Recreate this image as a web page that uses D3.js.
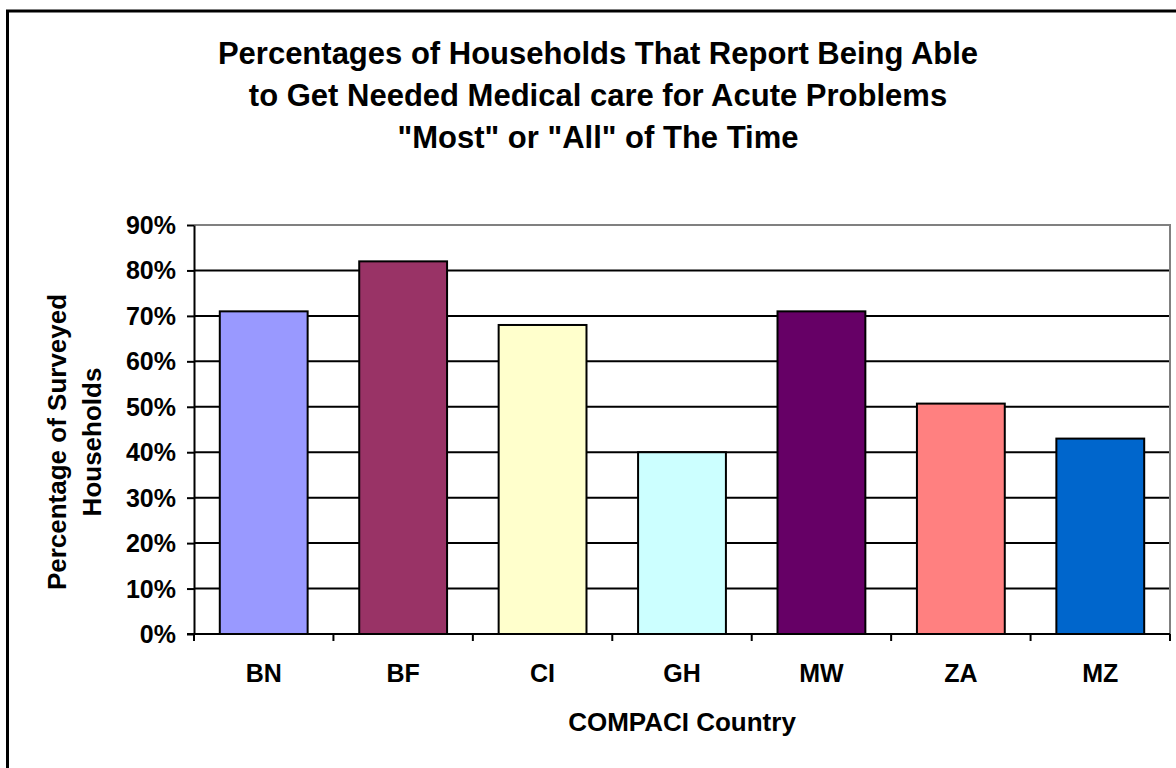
<!DOCTYPE html>
<html>
<head>
<meta charset="utf-8">
<script src="https://cdn.jsdelivr.net/npm/d3@7"></script>
<style>
  body { margin: 0; background: #fff; }
  text { font-family: Arial, "Liberation Sans", sans-serif; font-weight: bold; fill: #000; }
</style>
</head>
<body>
<div id="vis"></div>
<script>
const countries = ['BN', 'BF', 'CI', 'GH', 'MW', 'ZA', 'MZ'];
const shares = [71, 82, 68, 40, 71, 50.7, 43];
const barColors = ['#9999FF', '#993366', '#FFFFCC', '#CCFFFF', '#660066', '#FF8080', '#0066CC'];
const yTicks = [0, 10, 20, 30, 40, 50, 60, 70, 80, 90];
const titleLines = ['Percentages of Households That Report Being Able',
    'to Get Needed Medical care for Acute Problems',
    '"Most" or "All" of The Time'];

const W = 1176, H = 768;
const plot = {left: 194, right: 1170, top: 225, bottom: 634};

const svg = d3.select('#vis')
    .append('svg')
    .attr('width', W)
    .attr('height', H);

// outer chart frame (right and bottom edges fall outside the picture)
svg.append('rect')
    .attr('x', 7.5).attr('y', 11)
    .attr('width', W + 20).attr('height', H + 20)
    .attr('fill', 'none')
    .attr('stroke', '#000')
    .attr('stroke-width', 3)

const x = d3.scaleBand()
    .domain(countries)
    .range([plot.left, plot.right])
    .paddingInner(0.37)
    .paddingOuter(0.185);

const y = d3.scaleLinear()
    .domain([0, 90])
    .range([plot.bottom, plot.top]);

// gridlines
svg.append('g')
    .selectAll('line')
    .data(yTicks.filter(d => d > 0 && d < 90))
    .join('line')
    .attr('x1', plot.left).attr('x2', plot.right)
    .attr('y1', d => y(d)).attr('y2', d => y(d))
    .attr('stroke', '#000')
    .attr('stroke-width', 2)

// plot border top / right (grey)
svg.append('path')
    .attr('d', `M${plot.left},${y(90)}H${plot.right}V${plot.bottom}`)
    .attr('fill', 'none')
    .attr('stroke', '#808080')
    .attr('stroke-width', 2)

// bars
svg.append('g')
    .selectAll('rect')
    .data(countries.map((c, i) => ({c, v: shares[i], col: barColors[i]})))
    .join('rect')
    .attr('x', d => x(d.c))
    .attr('y', d => y(d.v))
    .attr('width', x.bandwidth())
    .attr('height', d => y(0) - y(d.v))
    .attr('fill', d => d.col)
    .attr('stroke', '#000')
    .attr('stroke-width', 2)

// y axis
const yAxis = svg.append('g')
    .attr('transform', `translate(${plot.left},0)`)
    .call(d3.axisLeft(y).tickValues(yTicks).tickFormat(d => d + '%').tickSize(7).tickSizeOuter(0).tickPadding(11))
yAxis.select('.domain').attr('stroke-width', 2)
yAxis.selectAll('.tick line').attr('stroke-width', 2)
yAxis.selectAll('.tick text').style('font-size', '25px').attr('dy', '0.34em')

// x axis: ticks on the category boundaries
const boundaries = d3.range(countries.length + 1).map(i => plot.left + i * x.step());
svg.append('line')
    .attr('x1', plot.left - 7).attr('x2', plot.right)
    .attr('y1', plot.bottom).attr('y2', plot.bottom)
    .attr('stroke', '#000').attr('stroke-width', 2)
svg.append('g')
    .selectAll('line')
    .data(boundaries)
    .join('line')
    .attr('x1', d => d).attr('x2', d => d)
    .attr('y1', plot.bottom).attr('y2', plot.bottom + 7)
    .attr('stroke', '#000').attr('stroke-width', 2)
svg.append('g')
    .selectAll('text')
    .data(countries)
    .join('text')
    .attr('x', d => x(d) + x.bandwidth() / 2)
    .attr('y', 682)
    .attr('text-anchor', 'middle')
    .style('font-size', '25px')
    .text(d => d)

// axis titles
svg.append('text')
    .attr('x', (plot.left + plot.right) / 2)
    .attr('y', 731)
    .attr('text-anchor', 'middle')
    .style('font-size', '26px')
    .text('COMPACI Country')

const yTitle = svg.append('text')
    .attr('transform', 'translate(66,442) rotate(-90)')
    .attr('text-anchor', 'middle')
    .style('font-size', '26px')
yTitle.append('tspan').attr('x', 0).attr('dy', 0).text('Percentage of Surveyed')
yTitle.append('tspan').attr('x', 0).attr('dy', 35).text('Households')

// title
svg.append('text')
    .attr('text-anchor', 'middle')
    .style('font-size', '31px')
    .selectAll('tspan')
    .data(titleLines)
    .join('tspan')
    .attr('x', 598)
    .attr('y', (d, i) => 64 + i * 42)
    .text(d => d)
</script>
</body>
</html>
